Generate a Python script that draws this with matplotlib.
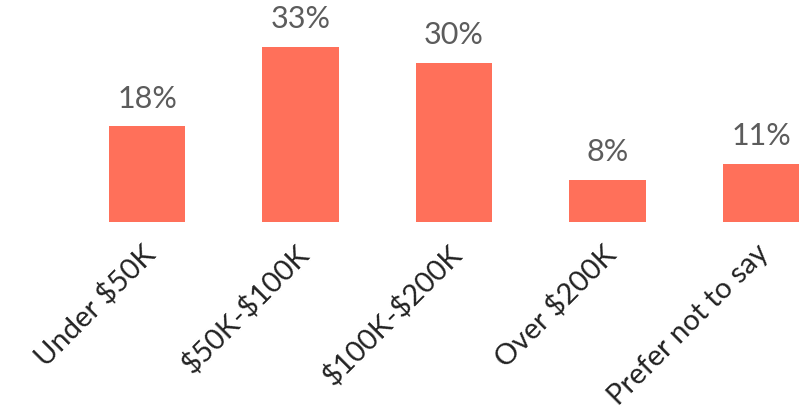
import matplotlib.pyplot as plt
from matplotlib.transforms import ScaledTranslation

categories = ["Under $50K", "$50K-$100K", "$100K-$200K", "Over $200K", "Prefer not to say"]
values = [18, 33, 30, 8, 11]
labels = ["18%", "33%", "30%", "8%", "11%"]

plt.rcParams['font.family'] = ['Lato', 'DejaVu Sans']
plt.rcParams['text.parse_math'] = False

fig = plt.figure(figsize=(8.08, 4.17), dpi=100)
ax = fig.add_axes([0, 0.4676, 1, 0.5324])

x = range(len(categories))
bars = ax.bar(x, values, width=0.5, color="#FF705A")

for b, lab in zip(bars, labels):
    ax.text(b.get_x() + b.get_width() / 2, b.get_height() + 2.5, lab,
            ha="center", va="bottom", fontsize=22, color="#5c5c5c")

ax.set_xlim(-0.958, 4.306)
ax.set_ylim(0, 41.8)
ax.set_xticks(list(x))
ax.set_xticklabels(categories, rotation=45, ha="right", va="top",
                   rotation_mode="anchor", fontsize=21, color="#222222")
ax.tick_params(axis="x", length=0, pad=13)
shift = ScaledTranslation(-0.06, 0, fig.dpi_scale_trans)
for t in ax.get_xticklabels():
    t.set_transform(t.get_transform() + shift)
ax.set_yticks([])
for s in ax.spines.values():
    s.set_visible(False)

fig.savefig("out.png", dpi=100)
